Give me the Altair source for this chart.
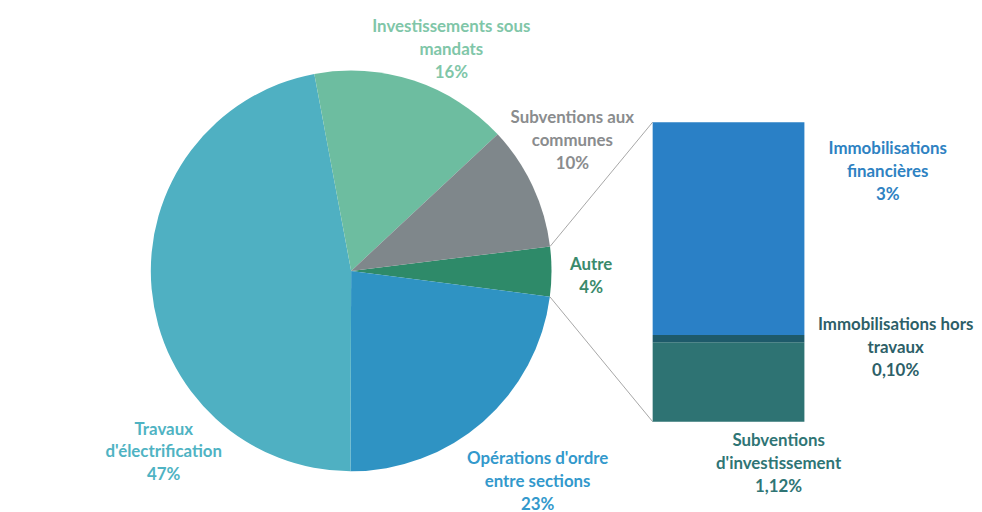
import math
import altair as alt
import pandas as pd

# ---------------- data ----------------
pie_names = ["Autre", "Opérations d'ordre entre sections", "Travaux d'électrification",
             "Investissements sous mandats", "Subventions aux communes"]
pie_values = [4, 23, 47, 16, 10]
pie_pct_text = ["4%", "23%", "47%", "16%", "10%"]
pie_label_lines = [["Autre"], ["Opérations d'ordre", "entre sections"],
                   ["Travaux", "d'électrification"], ["Investissements sous", "mandats"],
                   ["Subventions aux", "communes"]]

bar_names = ["Subventions d'investissement", "Immobilisations hors travaux",
             "Immobilisations financières"]
bar_values = [1.12, 0.10, 3.0]
bar_pct_text = ["1,12%", "0,10%", "3%"]
bar_label_lines = [["Subventions", "d'investissement"], ["Immobilisations hors", "travaux"],
                   ["Immobilisations", "financières"]]

# ---------------- styles / layout ----------------
OFFX, OFFY = 5, 8
CX, CY, R = 351 - OFFX, 271 - OFFY, 202
START = math.radians(83.0)
pie_colors = ["#2e8a69", "#2f93c3", "#4fb0c2", "#6dbda0", "#7f878b"]
pie_text_colors = ["#3a8a6b", "#3399cc", "#4fb3c3", "#80c6a8", "#8a8c8e"]
bar_colors = ["#2e7373", "#1e5a6a", "#2a80c6"]
bar_text_colors = ["#2f7575", "#2d5f68", "#2e82c2"]
BAR_X0, BAR_X1 = 655 - OFFX, 808 - OFFX
BAR_TOP, BAR_BOTTOM = 121 - OFFY, 423 - OFFY
LINE_H = 23
pie_label_pos = [(593, 265), (539, 461), (162, 431), (452, 25), (574, 117)]
bar_label_pos = [(782, 443), (900, 326), (892, 148)]
FONT = "Lato"
FSIZE = 17

# ---------------- tables ----------------
pie_df = pd.DataFrame({"name": pie_names, "value": pie_values, "ord": range(len(pie_names))})
cum = pd.Series(bar_values).cumsum()
bar_df = pd.DataFrame({"name": bar_names, "v0": cum - pd.Series(bar_values), "v1": cum})

rows = []
for lines, pct, (x, y), col in zip(pie_label_lines, pie_pct_text, pie_label_pos, pie_text_colors):
    for i, t in enumerate(lines + [pct]):
        rows.append({"px": x - OFFX, "py": y - OFFY + i * LINE_H, "t": t, "c": col})
for lines, pct, (x, y), col in zip(bar_label_lines, bar_pct_text, bar_label_pos, bar_text_colors):
    for i, t in enumerate(lines + [pct]):
        rows.append({"px": x - OFFX, "py": y - OFFY + i * LINE_H, "t": t, "c": col})
lab_df = pd.DataFrame(rows)

# leader lines: from pie edge at the "Autre" slice bounds to the bar corners
a0 = START
a1 = START + 2 * math.pi * pie_values[0] / sum(pie_values)
lines_df = pd.DataFrame({
    "x": [CX + R * math.sin(a0), CX + R * math.sin(a1)],
    "y": [CY - R * math.cos(a0), CY - R * math.cos(a1)],
    "x2": [BAR_X0, BAR_X0],
    "y2": [BAR_TOP, BAR_BOTTOM],
})

# ---------------- marks ----------------
pie = alt.Chart(pie_df).mark_arc(outerRadius=R).encode(
    theta=alt.Theta("value:Q", stack=True,
                    scale=alt.Scale(range=[START, START + 2 * math.pi])),
    color=alt.Color("name:N", scale=alt.Scale(domain=pie_names, range=pie_colors), legend=None),
    order=alt.Order("ord:Q"),
    x=alt.value(CX), y=alt.value(CY),
)

bar = alt.Chart(bar_df).mark_rect().encode(
    y=alt.Y("v0:Q", axis=None,
            scale=alt.Scale(domain=[0, sum(bar_values)], range=[BAR_BOTTOM, BAR_TOP], nice=False, zero=True)),
    y2="v1:Q",
    x=alt.value(BAR_X0), x2=alt.value(BAR_X1),
    color=alt.Color("name:N", scale=alt.Scale(domain=bar_names, range=bar_colors), legend=None),
)

rules = alt.Chart(lines_df).mark_rule(color="#a6a6a6", strokeWidth=1).encode(
    x=alt.X("x:Q", scale=None), y=alt.Y("y:Q", scale=None),
    x2="x2:Q", y2="y2:Q",
)

labels = alt.Chart(lab_df).mark_text(font=FONT, fontSize=FSIZE, fontWeight="bold",
                                     align="center", baseline="middle").encode(
    x=alt.X("px:Q", scale=None), y=alt.Y("py:Q", scale=None),
    text="t:N", color=alt.Color("c:N", scale=None),
)

chart = alt.layer(rules, pie, bar, labels).resolve_scale(
    x="independent", y="independent", color="independent", theta="independent"
).properties(width=972, height=496, padding=0, background="white").configure_view(stroke=None)

chart.save("out.html", embed_options={"renderer": "svg", "actions": False})
